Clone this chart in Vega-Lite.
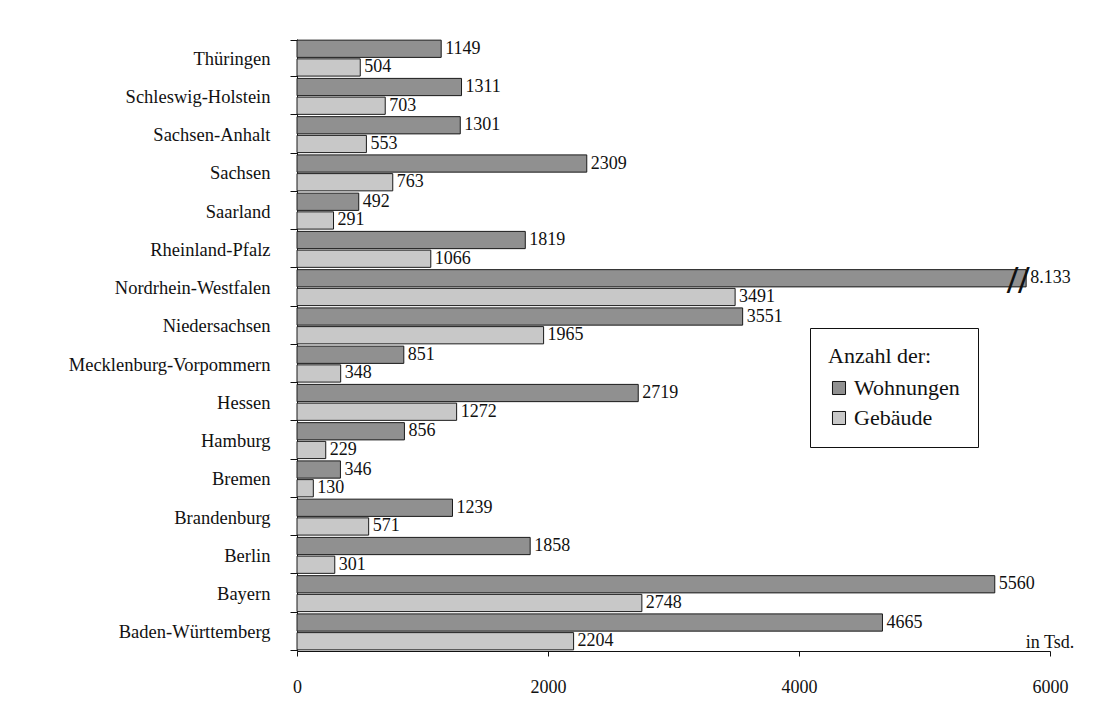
{
  "$schema": "https://vega.github.io/schema/vega-lite/v6.json",
  "width": 753,
  "height": 612,
  "autosize": {"type": "none"},
  "padding": {"left": 297, "top": 39, "right": 55, "bottom": 59},
  "background": "white",
  "config": {"font": "Liberation Serif", "view": {"stroke": null}},
  "data": {
    "values": [
      {"land": "Thüringen", "typ": "Wohnungen", "wert": 1149, "anzeige": "1149"},
      {"land": "Thüringen", "typ": "Gebäude", "wert": 504, "anzeige": "504"},
      {"land": "Schleswig-Holstein", "typ": "Wohnungen", "wert": 1311, "anzeige": "1311"},
      {"land": "Schleswig-Holstein", "typ": "Gebäude", "wert": 703, "anzeige": "703"},
      {"land": "Sachsen-Anhalt", "typ": "Wohnungen", "wert": 1301, "anzeige": "1301"},
      {"land": "Sachsen-Anhalt", "typ": "Gebäude", "wert": 553, "anzeige": "553"},
      {"land": "Sachsen", "typ": "Wohnungen", "wert": 2309, "anzeige": "2309"},
      {"land": "Sachsen", "typ": "Gebäude", "wert": 763, "anzeige": "763"},
      {"land": "Saarland", "typ": "Wohnungen", "wert": 492, "anzeige": "492"},
      {"land": "Saarland", "typ": "Gebäude", "wert": 291, "anzeige": "291"},
      {"land": "Rheinland-Pfalz", "typ": "Wohnungen", "wert": 1819, "anzeige": "1819"},
      {"land": "Rheinland-Pfalz", "typ": "Gebäude", "wert": 1066, "anzeige": "1066"},
      {"land": "Nordrhein-Westfalen", "typ": "Wohnungen", "wert": 8133, "anzeige": "8.133"},
      {"land": "Nordrhein-Westfalen", "typ": "Gebäude", "wert": 3491, "anzeige": "3491"},
      {"land": "Niedersachsen", "typ": "Wohnungen", "wert": 3551, "anzeige": "3551"},
      {"land": "Niedersachsen", "typ": "Gebäude", "wert": 1965, "anzeige": "1965"},
      {"land": "Mecklenburg-Vorpommern", "typ": "Wohnungen", "wert": 851, "anzeige": "851"},
      {"land": "Mecklenburg-Vorpommern", "typ": "Gebäude", "wert": 348, "anzeige": "348"},
      {"land": "Hessen", "typ": "Wohnungen", "wert": 2719, "anzeige": "2719"},
      {"land": "Hessen", "typ": "Gebäude", "wert": 1272, "anzeige": "1272"},
      {"land": "Hamburg", "typ": "Wohnungen", "wert": 856, "anzeige": "856"},
      {"land": "Hamburg", "typ": "Gebäude", "wert": 229, "anzeige": "229"},
      {"land": "Bremen", "typ": "Wohnungen", "wert": 346, "anzeige": "346"},
      {"land": "Bremen", "typ": "Gebäude", "wert": 130, "anzeige": "130"},
      {"land": "Brandenburg", "typ": "Wohnungen", "wert": 1239, "anzeige": "1239"},
      {"land": "Brandenburg", "typ": "Gebäude", "wert": 571, "anzeige": "571"},
      {"land": "Berlin", "typ": "Wohnungen", "wert": 1858, "anzeige": "1858"},
      {"land": "Berlin", "typ": "Gebäude", "wert": 301, "anzeige": "301"},
      {"land": "Bayern", "typ": "Wohnungen", "wert": 5560, "anzeige": "5560"},
      {"land": "Bayern", "typ": "Gebäude", "wert": 2748, "anzeige": "2748"},
      {"land": "Baden-Württemberg", "typ": "Wohnungen", "wert": 4665, "anzeige": "4665"},
      {"land": "Baden-Württemberg", "typ": "Gebäude", "wert": 2204, "anzeige": "2204"}
    ]
  },
  "transform": [{"calculate": "min(datum.wert, 5810)", "as": "balken"}],
  "encoding": {
    "y": {
      "field": "land",
      "type": "nominal",
      "sort": ["Thüringen", "Schleswig-Holstein", "Sachsen-Anhalt", "Sachsen", "Saarland", "Rheinland-Pfalz", "Nordrhein-Westfalen", "Niedersachsen", "Mecklenburg-Vorpommern", "Hessen", "Hamburg", "Bremen", "Brandenburg", "Berlin", "Bayern", "Baden-Württemberg"],
      "scale": {"paddingInner": 0.06, "paddingOuter": 0.03},
      "axis": {"title": null, "tickBand": "extent", "tickSize": 7, "labelPadding": 20, "labelFontSize": 18.5, "labelColor": "#111", "domainColor": "#111", "tickColor": "#111", "labelLimit": 300}
    },
    "yOffset": {"field": "typ", "type": "nominal", "sort": ["Wohnungen", "Gebäude"], "scale": {"paddingInner": 0.08}}
  },
  "layer": [
    {
      "mark": {"type": "bar", "stroke": "#1a1a1a", "strokeWidth": 1},
      "encoding": {
        "x": {
          "field": "balken",
          "type": "quantitative",
          "scale": {"domain": [0, 6000], "nice": false},
          "axis": {"title": null, "values": [0, 2000, 4000, 6000], "format": "d", "grid": false, "tickSize": 5, "labelPadding": 22, "labelFontSize": 18, "labelColor": "#111", "domainColor": "#111", "tickColor": "#111", "labelFlush": false}
        },
        "color": {
          "field": "typ",
          "type": "nominal",
          "sort": ["Wohnungen", "Gebäude"],
          "scale": {"domain": ["Wohnungen", "Gebäude"], "range": ["#909090", "#c8c8c8"]},
          "legend": {
            "orient": "none", "legendX": 513, "legendY": 289,
            "title": "Anzahl der:", "titleFontSize": 22, "titleFontWeight": "normal", "titleColor": "#111", "titlePadding": 9, "titleFont": "Liberation Serif",
            "labelFontSize": 22, "labelColor": "#111", "labelOffset": 4, "labelFont": "Liberation Serif",
            "symbolType": "square", "symbolSize": 170, "symbolStrokeColor": "#111", "symbolStrokeWidth": 1,
            "rowPadding": 8, "padding": 18, "strokeColor": "#111", "fillColor": "white"
          }
        }
      }
    },
    {
      "mark": {"type": "text", "align": "left", "baseline": "middle", "dx": 4, "fontSize": 18, "color": "#111"},
      "encoding": {
        "x": {"field": "balken", "type": "quantitative"},
        "text": {"field": "anzeige"}
      }
    },
    {
      "transform": [{"filter": "datum.wert > 6000 && datum.typ == 'Wohnungen'"}],
      "mark": {"type": "text", "text": "//", "align": "center", "baseline": "middle", "dx": -8, "dy": 3, "fontSize": 40, "fontWeight": "bold", "color": "#111"},
      "encoding": {
        "x": {"field": "balken", "type": "quantitative"}
      }
    },
    {
      "data": {"values": [{"t": "in Tsd."}]},
      "mark": {"type": "text", "align": "center", "baseline": "alphabetic", "dy": 16, "fontSize": 18, "color": "#111"},
      "encoding": {
        "x": {"datum": 6000, "type": "quantitative"},
        "y": {"datum": "Baden-Württemberg", "type": "nominal"},
        "yOffset": null,
        "text": {"field": "t"}
      }
    }
  ]
}
